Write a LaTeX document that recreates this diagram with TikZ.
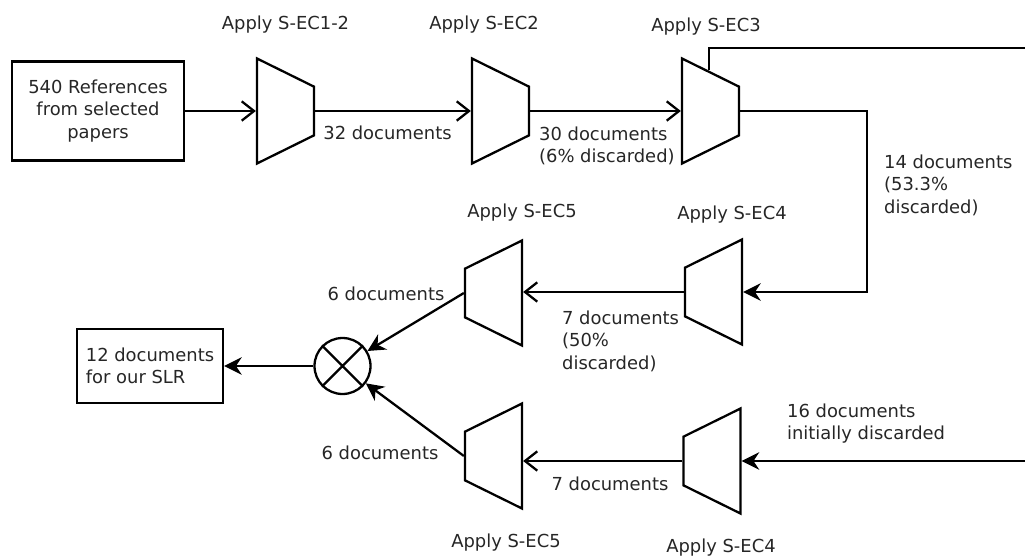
\documentclass[tikz,border=0pt]{standalone}
\usepackage{fontspec}
\setmainfont{DejaVu Sans}
\usetikzlibrary{shapes.geometric,arrows.meta,calc}

\begin{document}
\begin{tikzpicture}[x=0.02cm, y=-0.02cm, line width=1.3pt,
    every node/.style={text=black!85, font=\fontsize{10.2}{12.8}\selectfont},
    filterL/.style={draw, trapezium, trapezium angle=60, trapezium stretches=true,
      minimum width=2.1cm, minimum height=1.14cm, inner sep=1pt, rotate=-90},
    filterR/.style={draw, trapezium, trapezium angle=60, trapezium stretches=true,
      minimum width=2.1cm, minimum height=1.14cm, inner sep=1pt, rotate=90},
    docbox/.style={draw, align=center},
    note/.style={inner sep=0pt, align=left},
    open/.style={-{Straight Barb[length=7pt,width=11pt]}},
    fillarrow/.style={-{Stealth[length=10pt,width=10pt]}}]
  \useasboundingbox (0,0) rectangle (1025,558);

  % boxes and filters
  \node[docbox, minimum width=3.44cm, minimum height=1.98cm] (refs) at (98,111) {540 References\\from selected\\papers};
  \node[filterL] (ec12) at (285.5,111) {};
  \node[filterL] (ec2) at (500.5,111) {};
  \node[filterL] (ec3) at (710.5,111) {};
  \node[filterR] (ec4a) at (713.5,292) {};
  \node[filterR] (ec5a) at (493.5,293) {};
  \node[filterR] (ec5b) at (493.5,456) {};
  \node[filterR] (ec4b) at (712,461) {};
  \node[draw, circle, minimum size=1.12cm, inner sep=0pt] (merge) at (342.5,366) {};
  \node[docbox, align=left, minimum width=2.92cm, minimum height=1.48cm] (slr) at (150,366) {12 documents\\for our SLR};

  \draw (merge.north west) -- (merge.south east) (merge.north east) -- (merge.south west);

  \coordinate (top3) at ($(ec3.bottom left corner)!0.47!(ec3.top left corner)$);
  \coordinate (out3) at (1025,48);
  \coordinate (bend) at (867,200);
  \coordinate (in4) at (1025,461);

  % connectors
  \draw[open] (refs.east) -- (ec12.south);
  \draw[open] (ec12.north) -- (ec2.south);
  \draw[open] (ec2.north) -- (ec3.south);
  \draw (top3) |- (out3);
  \draw[fillarrow] (ec3.north) -| (bend) |- (ec4a.south);
  \draw[open] (ec4a.north) -- (ec4a.north -| ec5a.south);
  \draw[fillarrow] (ec5a.north) -- (merge);
  \draw[fillarrow] (in4) -- (ec4b.south);
  \draw[open] (ec4b.north) -- (ec4b.north -| ec5b.south);
  \draw[fillarrow] (ec5b.north) -- (merge);
  \draw[fillarrow] (merge.west) -- (slr.east);

  % labels
  \node (lab12) at (285.5,25) {Apply S-EC1-2};
  \node (lab2) at (484,25) {Apply S-EC2};
  \node (lab3) at (706,27) {Apply S-EC3};
  \node (n32) at (387.5,133) {32 documents};
  \node[note, anchor=west] (n30) at (538,146) {30 documents\\(6\% discarded)};
  \node[note, anchor=west] (n14) at (883,185) {14 documents\\(53.3\%\\discarded)};
  \node (lab4a) at (732,215) {Apply S-EC4};
  \node (lab5a) at (522,213) {Apply S-EC5};
  \node (n6a) at (386,294) {6 documents};
  \node[note, anchor=west] (n7a) at (561,341) {7 documents\\(50\%\\discarded)};
  \node (n6b) at (380,453) {6 documents};
  \node (n7b) at (610,484) {7 documents};
  \node[note, anchor=west] (n16) at (786,423.5) {16 documents\\initially discarded};
  \node (lab5b) at (506,543) {Apply S-EC5};
  \node (lab4b) at (721,548) {Apply S-EC4};
\end{tikzpicture}
\end{document}
